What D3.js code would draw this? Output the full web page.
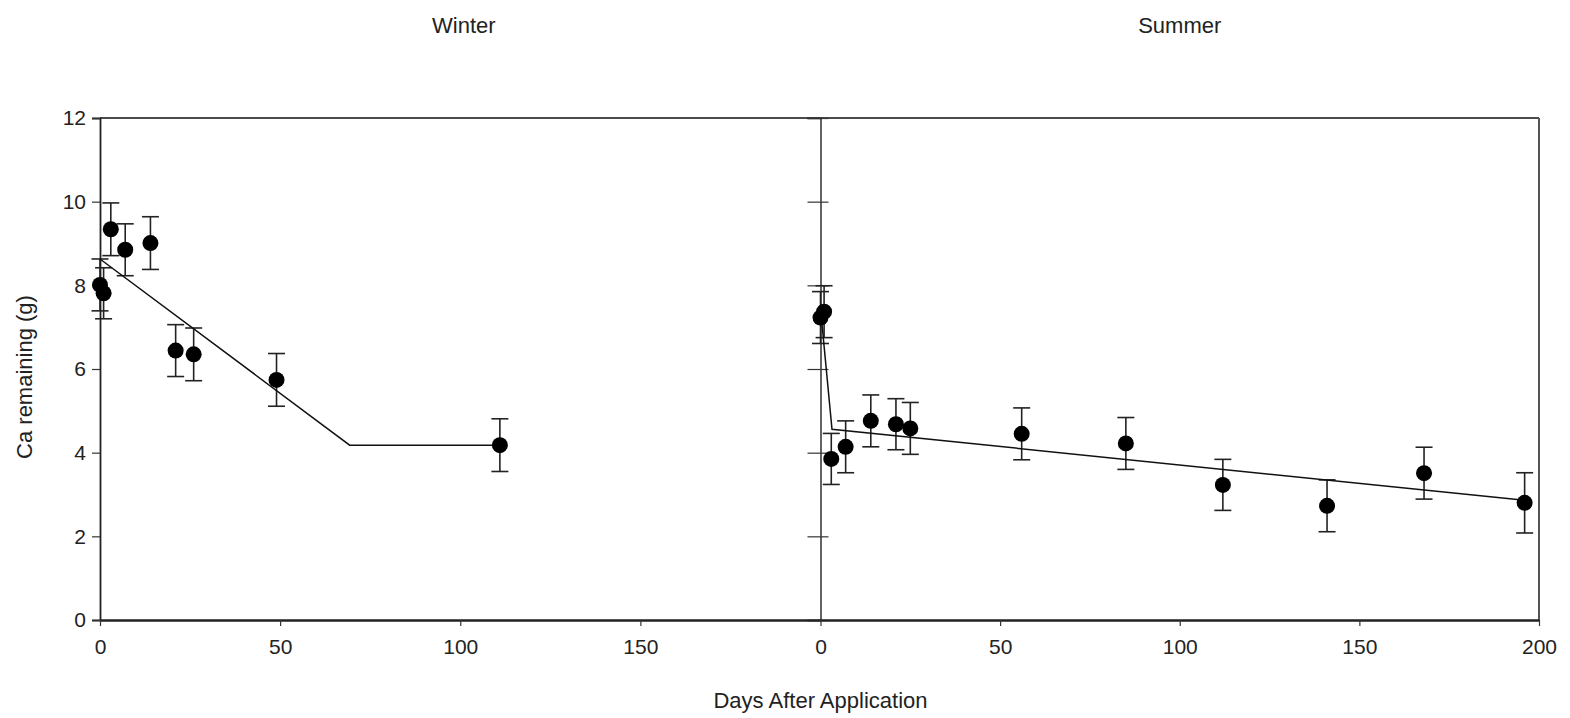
<!DOCTYPE html>
<html>
<head>
<meta charset="utf-8">
<script src="https://cdn.jsdelivr.net/npm/d3@7/dist/d3.min.js"></script>
<style>
  html, body { margin: 0; padding: 0; background: #fff; }
  svg { display: block; font-family: "Liberation Sans", Arial, sans-serif; }
  .tick text { font-size: 21px; fill: #222; }
</style>
</head>
<body>
<svg id="chart" width="1570" height="718"></svg>
<script>
// ---- Data ----
const winterDays = [0, 1, 3, 7, 14, 21, 26, 49, 111];
const winterCa   = [8.01, 7.81, 9.34, 8.85, 9.01, 6.44, 6.35, 5.74, 4.18];
const winterErr  = [0.62, 0.61, 0.63, 0.62, 0.63, 0.62, 0.63, 0.63, 0.63];
const winterFitDays = [0, 69.3, 111];
const winterFitCa   = [8.63, 4.18, 4.18];

const summerDays = [0, 1, 3, 7, 14, 21, 25, 56, 85, 112, 141, 168, 196];
const summerCa   = [7.23, 7.37, 3.85, 4.14, 4.76, 4.68, 4.58, 4.45, 4.22, 3.23, 2.73, 3.51, 2.80];
const summerErr  = [0.62, 0.62, 0.61, 0.62, 0.62, 0.61, 0.62, 0.62, 0.62, 0.61, 0.62, 0.62, 0.72];
const summerFitDays = [0, 3.2, 196];
const summerFitCa   = [7.45, 4.56, 2.86];

const yTicks = [0, 2, 4, 6, 8, 10, 12];
const winterXTicks = [0, 50, 100, 150];
const summerXTicks = [0, 50, 100, 150, 200];
const panelTitles = ["Winter", "Summer"];
const yTitle = "Ca remaining (g)";
const xTitle = "Days After Application";

// ---- Layout ----
const svg = d3.select("#chart");
const pLeft = 100, pMid = 820.5, pRight = 1539, pTop = 118, pBottom = 620;

const xW = d3.scaleLinear().domain([0, 200]).range([pLeft, pMid]);
const xS = d3.scaleLinear().domain([0, 200]).range([pMid, pRight]);
const y = d3.scaleLinear().domain([0, 12]).range([pBottom, pTop]);

// Frame: top and right border
svg.append("line").attr("x1", pLeft).attr("x2", pRight).attr("y1", pTop).attr("y2", pTop)
  .attr("stroke", "#111").attr("stroke-width", 1.5);
svg.append("line").attr("x1", pRight).attr("x2", pRight).attr("y1", pTop).attr("y2", pBottom)
  .attr("stroke", "#555").attr("stroke-width", 2);

// Left y axis
const gy = svg.append("g").attr("transform", `translate(${pLeft},0)`)
  .call(d3.axisLeft(y).tickValues(yTicks).tickSize(8).tickPadding(6).tickFormat(d3.format("d")));
gy.select(".domain").attr("stroke", "#222").attr("stroke-width", 1.8);
gy.selectAll(".tick line").attr("stroke", "#333").attr("stroke-width", 1.2);

// Middle divider axis (ticks crossing, no labels)
const gm1 = svg.append("g").attr("transform", `translate(${pMid},0)`)
  .call(d3.axisLeft(y).tickValues(yTicks).tickSize(13).tickFormat(""));
gm1.select(".domain").attr("stroke", "#111").attr("stroke-width", 1.3);
gm1.selectAll(".tick line").attr("stroke", "#333").attr("stroke-width", 1.2);
const gm2 = svg.append("g").attr("transform", `translate(${pMid},0)`)
  .call(d3.axisRight(y).tickValues(yTicks).tickSize(8).tickFormat(""));
gm2.select(".domain").remove();
gm2.selectAll(".tick line").attr("stroke", "#333").attr("stroke-width", 1.2);

// Bottom axes
function styleX(g) {
  g.select(".domain").attr("stroke", "#222").attr("stroke-width", 2.5);
  g.selectAll(".tick line").attr("stroke", "#333").attr("stroke-width", 1.2);
}
const gxW = svg.append("g").attr("transform", `translate(0,${pBottom})`)
  .call(d3.axisBottom(xW).tickValues(winterXTicks).tickSize(6).tickPadding(13).tickSizeOuter(0));
styleX(gxW);
const gxS = svg.append("g").attr("transform", `translate(0,${pBottom})`)
  .call(d3.axisBottom(xS).tickValues(summerXTicks).tickSize(6).tickPadding(13).tickSizeOuter(0));
styleX(gxS);

// Titles
svg.append("text").attr("x", xW(101)).attr("y", 33).attr("text-anchor", "middle")
  .attr("font-size", 22).attr("fill", "#222").text(panelTitles[0]);
svg.append("text").attr("x", xS(100)).attr("y", 33).attr("text-anchor", "middle")
  .attr("font-size", 22).attr("fill", "#222").text(panelTitles[1]);
svg.append("text").attr("transform", `translate(32,377) rotate(-90)`)
  .attr("text-anchor", "middle").attr("font-size", 22).attr("fill", "#222").text(yTitle);
svg.append("text").attr("x", pMid).attr("y", 708).attr("text-anchor", "middle")
  .attr("font-size", 22).attr("fill", "#222").text(xTitle);

// Series drawing
function drawSeries(x, days, vals, errs, fitDays, fitVals) {
  const pts = days.map((d, i) => ({ d, v: vals[i], e: errs[i] }));
  const cap = 8.5;
  const g = svg.append("g");
  const eb = g.selectAll("g.eb").data(pts).join("g").attr("class", "eb")
    .attr("stroke", "#222").attr("stroke-width", 1.6);
  eb.append("line").attr("x1", p => x(p.d)).attr("x2", p => x(p.d))
    .attr("y1", p => y(p.v + p.e)).attr("y2", p => y(p.v - p.e));
  eb.append("line").attr("x1", p => x(p.d) - cap).attr("x2", p => x(p.d) + cap)
    .attr("y1", p => y(p.v + p.e)).attr("y2", p => y(p.v + p.e));
  eb.append("line").attr("x1", p => x(p.d) - cap).attr("x2", p => x(p.d) + cap)
    .attr("y1", p => y(p.v - p.e)).attr("y2", p => y(p.v - p.e));

  const fit = fitDays.map((d, i) => [d, fitVals[i]]);
  g.append("path").datum(fit)
    .attr("d", d3.line().x(p => x(p[0])).y(p => y(p[1])))
    .attr("fill", "none").attr("stroke", "#111").attr("stroke-width", 1.5);

  g.selectAll("circle").data(pts).join("circle")
    .attr("cx", p => x(p.d)).attr("cy", p => y(p.v)).attr("r", 8)
    .attr("fill", "#000");
}
drawSeries(xW, winterDays, winterCa, winterErr, winterFitDays, winterFitCa);
drawSeries(xS, summerDays, summerCa, summerErr, summerFitDays, summerFitCa);
</script>
</body>
</html>
